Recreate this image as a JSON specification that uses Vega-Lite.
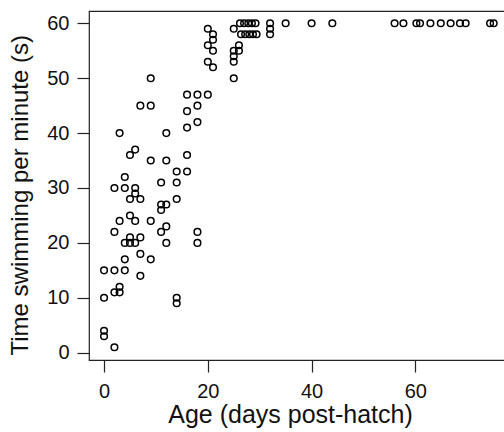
{
  "$schema": "https://vega.github.io/schema/vega-lite/v6.json",
  "width": 420,
  "height": 349,
  "autosize": {"type": "none"},
  "padding": {"left": 89, "top": 11, "right": 0, "bottom": 72},
  "background": "white",
  "config": {
    "view": {"stroke": "#222", "strokeWidth": 1.2},
    "font": "Liberation Sans"
  },
  "data": {
    "values": [
      {"age": 20, "time": 59}, {"age": 21, "time": 58}, {"age": 21, "time": 57}, {"age": 20, "time": 56},
      {"age": 21, "time": 55}, {"age": 20, "time": 53}, {"age": 21, "time": 52},
      {"age": 25, "time": 59}, {"age": 25, "time": 55}, {"age": 25, "time": 54}, {"age": 25, "time": 53},
      {"age": 25, "time": 50}, {"age": 26, "time": 56}, {"age": 26, "time": 55},
      {"age": 26.2, "time": 60}, {"age": 27, "time": 60}, {"age": 27.8, "time": 60}, {"age": 28.5, "time": 60}, {"age": 29.2, "time": 60},
      {"age": 26.4, "time": 58}, {"age": 27.2, "time": 58}, {"age": 28, "time": 58}, {"age": 28.7, "time": 58}, {"age": 29.4, "time": 58},
      {"age": 32, "time": 60}, {"age": 32, "time": 59}, {"age": 32, "time": 58},
      {"age": 35, "time": 60}, {"age": 40, "time": 60}, {"age": 44, "time": 60},
      {"age": 56, "time": 60}, {"age": 57.7, "time": 60}, {"age": 60.2, "time": 60}, {"age": 60.9, "time": 60},
      {"age": 62.9, "time": 60}, {"age": 64.9, "time": 60}, {"age": 66.8, "time": 60}, {"age": 68.6, "time": 60},
      {"age": 69.7, "time": 60}, {"age": 74.4, "time": 60}, {"age": 75.1, "time": 60},
      {"age": 9, "time": 50},
      {"age": 16, "time": 47}, {"age": 18, "time": 47}, {"age": 20, "time": 47},
      {"age": 7, "time": 45}, {"age": 9, "time": 45}, {"age": 18, "time": 45},
      {"age": 16, "time": 44}, {"age": 18, "time": 42}, {"age": 16, "time": 41},
      {"age": 3, "time": 40}, {"age": 12, "time": 40},
      {"age": 6, "time": 37}, {"age": 5, "time": 36}, {"age": 16, "time": 36},
      {"age": 9, "time": 35}, {"age": 12, "time": 35},
      {"age": 14, "time": 33}, {"age": 16, "time": 33},
      {"age": 4, "time": 32},
      {"age": 11, "time": 31}, {"age": 14, "time": 31},
      {"age": 2, "time": 30}, {"age": 4, "time": 30}, {"age": 6, "time": 30},
      {"age": 6, "time": 29},
      {"age": 5, "time": 28}, {"age": 7, "time": 28}, {"age": 14, "time": 28},
      {"age": 11, "time": 27}, {"age": 12, "time": 27}, {"age": 11, "time": 26},
      {"age": 3, "time": 24}, {"age": 5, "time": 25}, {"age": 6, "time": 24}, {"age": 9, "time": 24},
      {"age": 2, "time": 22}, {"age": 11, "time": 22}, {"age": 12, "time": 23},
      {"age": 18, "time": 22}, {"age": 18, "time": 20},
      {"age": 4, "time": 20}, {"age": 5, "time": 21}, {"age": 5, "time": 20}, {"age": 6, "time": 20},
      {"age": 7, "time": 21}, {"age": 12, "time": 20},
      {"age": 7, "time": 18},
      {"age": 4, "time": 17}, {"age": 9, "time": 17},
      {"age": 0, "time": 15}, {"age": 2, "time": 15}, {"age": 4, "time": 15},
      {"age": 7, "time": 14},
      {"age": 3, "time": 12}, {"age": 2, "time": 11}, {"age": 3, "time": 11},
      {"age": 0, "time": 10}, {"age": 14, "time": 10}, {"age": 14, "time": 9},
      {"age": 0, "time": 4}, {"age": 0, "time": 3},
      {"age": 2, "time": 1}
    ]
  },
  "mark": {"type": "point", "shape": "circle", "filled": false, "stroke": "black", "strokeWidth": 1.5, "size": 44, "opacity": 1},
  "encoding": {
    "x": {
      "field": "age", "type": "quantitative",
      "scale": {"domain": [-2.9, 78.05], "nice": false, "zero": false},
      "axis": {
        "title": "Age (days post-hatch)",
        "values": [0, 20, 40, 60],
        "domain": false, "grid": false,
        "tickSize": 12, "tickColor": "#222", "tickWidth": 1.2,
        "labelFontSize": 20, "labelColor": "#111", "labelPadding": 9,
        "labelFont": "Liberation Sans", "labelFlush": false,
        "titleFont": "Liberation Sans", "titleFontSize": 25, "titleFontWeight": "normal", "titleColor": "#111",
        "titleX": 201, "titleY": 62, "titleBaseline": "alphabetic", "titleAlign": "center", "titleAnchor": null
      }
    },
    "y": {
      "field": "time", "type": "quantitative",
      "scale": {"domain": [-1.33, 62.24], "nice": false, "zero": false},
      "axis": {
        "title": "Time swimming per minute (s)",
        "values": [0, 10, 20, 30, 40, 50, 60],
        "domain": false, "grid": false,
        "tickSize": 12, "tickColor": "#222", "tickWidth": 1.2,
        "labelFontSize": 20, "labelColor": "#111", "labelPadding": 8,
        "labelFont": "Liberation Sans", "labelFlush": false,
        "titleFont": "Liberation Sans", "titleFontSize": 24, "titleFontWeight": "normal", "titleColor": "#111",
        "titleX": -62, "titleY": 344, "titleAngle": 270, "titleBaseline": "alphabetic", "titleAlign": "left", "titleAnchor": null
      }
    }
  }
}
